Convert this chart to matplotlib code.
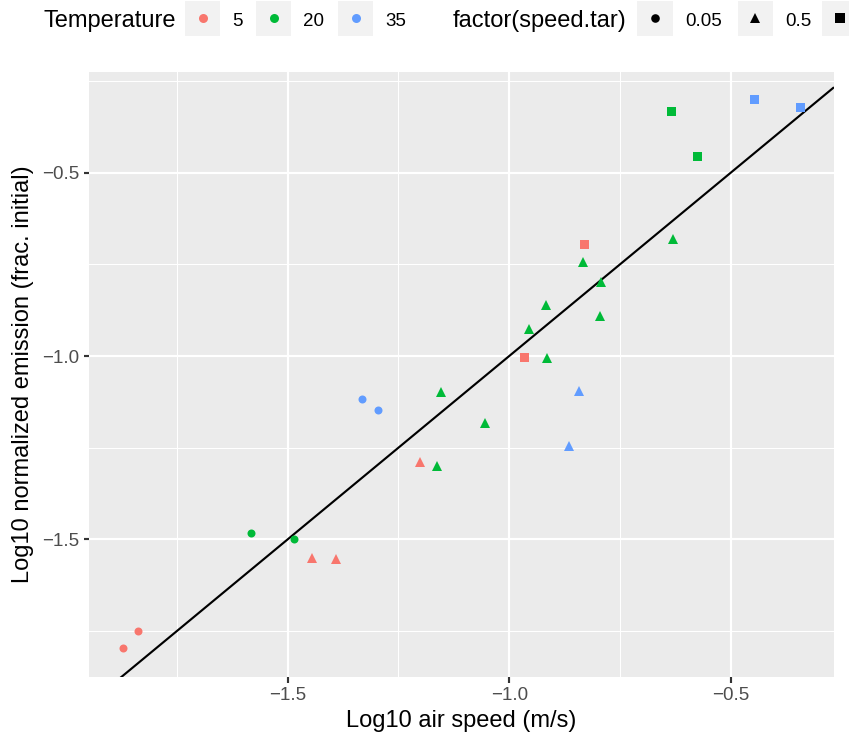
import matplotlib
matplotlib.use("Agg")
import matplotlib.pyplot as plt
from matplotlib.patches import Rectangle

plt.rcParams['font.family'] = ['Liberation Sans', 'DejaVu Sans']

# ---- data ----
log_speed = [-1.8725, -1.8386, -1.583, -1.4865, -1.3316, -1.2962,
             -1.4445, -1.391, -1.2007,
             -1.1533, -1.163, -1.0553, -0.8327, -0.7928, -0.9163, -0.956, -0.7944, -0.914, -0.6302,
             -0.8431, -0.8643,
             -0.8305, -0.9659,
             -0.6341, -0.5754,
             -0.4467, -0.3429]
log_emis = [-1.797, -1.749, -1.483, -1.499, -1.118, -1.146,
            -1.552, -1.554, -1.290,
            -1.099, -1.301, -1.182, -0.744, -0.797, -0.861, -0.927, -0.890, -1.005, -0.682,
            -1.095, -1.245,
            -0.695, -1.003,
            -0.333, -0.455,
            -0.300, -0.322]
temperature = [5, 5, 20, 20, 35, 35,
               5, 5, 5,
               20, 20, 20, 20, 20, 20, 20, 20, 20, 20,
               35, 35,
               5, 5,
               20, 20,
               35, 35]
speed_tar = [0.05] * 6 + [0.5] * 15 + [5] * 6

temp_levels = [5, 20, 35]
temp_labels = ["5", "20", "35"]
speed_levels = [0.05, 0.5, 5]
speed_labels = ["0.05", "0.5", "5"]
abline_intercept = 0.0
abline_slope = 1.0

x_ticks = [-1.5, -1.0, -0.5]
x_minor = [-1.75, -1.25, -0.75]
y_ticks = [-1.5, -1.0, -0.5]
y_minor = [-1.75, -1.25, -0.75, -0.25]

# ---- styles ----
colors = {5: "#F8766D", 20: "#00BA38", 35: "#619CFF"}
markers = {0.05: ("o", 4.0), 0.5: ("^", 5.0), 5: ("s", 4.5)}
FS_TICK = 9.4
FS_TITLE = 11.8

W, H, DPI = 849, 738, 144
fig = plt.figure(figsize=(W / DPI, H / DPI), dpi=DPI)
L, R, T, B = 89, 834, 72, 677
ax = fig.add_axes([L / W, 1 - B / H, (R - L) / W, (B - T) / H])
ax.set_facecolor("#EBEBEB")
for s in ax.spines.values():
    s.set_visible(False)

xlim = (-1.9485, -0.267)
ylim = (-1.8755, -0.2254)
ax.set_xlim(*xlim)
ax.set_ylim(*ylim)

ax.set_xticks(x_ticks)
ax.set_xticks(x_minor, minor=True)
ax.set_yticks(y_ticks)
ax.set_yticks(y_minor, minor=True)
ax.set_xticklabels([f"{v:.1f}".replace("-", "\u2212") for v in x_ticks])
ax.set_yticklabels([f"{v:.1f}".replace("-", "\u2212") for v in y_ticks])
ax.grid(which="major", color="white", linewidth=1.07)
ax.grid(which="minor", color="white", linewidth=0.53)
ax.set_axisbelow(True)
ax.tick_params(which="major", length=2.75, width=1.07, color="#333333",
               labelsize=FS_TICK, labelcolor="#4D4D4D", pad=2.2)
ax.tick_params(which="minor", length=0)

# abline
xs = list(xlim)
ax.plot(xs, [abline_intercept + abline_slope * v for v in xs], color="black",
        linewidth=1.07, zorder=2, solid_capstyle="butt")

for t in temp_levels:
    for sp in speed_levels:
        px = [x for x, tt, ss in zip(log_speed, temperature, speed_tar) if tt == t and ss == sp]
        py = [y for y, tt, ss in zip(log_emis, temperature, speed_tar) if tt == t and ss == sp]
        if px:
            m, ms = markers[sp]
            ax.plot(px, py, linestyle="none", marker=m, markersize=ms,
                    color=colors[t], markeredgewidth=0, zorder=3)

ax.set_xlabel("Log10 air speed (m/s)", fontsize=FS_TITLE, labelpad=3)
ax.set_ylabel("Log10 normalized emission (frac. initial)", fontsize=FS_TITLE, labelpad=4)

# ---- legend (top, drawn in pixel coordinates) ----
lax = fig.add_axes([0, 0, 1, 1], zorder=5)
lax.set_xlim(0, W)
lax.set_ylim(H, 0)
lax.axis("off")
cy = 18.3
base = 26.3
box = 35.5
lax.text(43.5, base + 0.3, "Temperature", fontsize=FS_TITLE, ha="left", va="baseline")
temp_box_x = [185, 256, 338]
for bx, t, lab in zip(temp_box_x, temp_levels, temp_labels):
    lax.add_patch(Rectangle((bx, cy - box / 2), box, box, facecolor="#F2F2F2", edgecolor="none"))
    lax.plot([bx + box / 2], [cy], marker="o", markersize=4.5, color=colors[t],
             markeredgewidth=0, linestyle="none")
    lax.text(bx + box + 12, base, lab, fontsize=FS_TICK, ha="left", va="baseline")

lax.text(453, base + 0.3, "factor(speed.tar)", fontsize=FS_TITLE, ha="left", va="baseline")
speed_box_x = [637.3, 737.7, 822.3]
for bx, sp, lab in zip(speed_box_x, speed_levels, speed_labels):
    lax.add_patch(Rectangle((bx, cy - box / 2), box, box, facecolor="#F2F2F2", edgecolor="none"))
    m, ms = markers[sp]
    lax.plot([bx + box / 2], [cy], marker=m, markersize=ms + 0.3, color="black",
             markeredgewidth=0, linestyle="none")
    # the reference legend runs off the right edge; labels past the edge are not shown
    if bx + box + 12 < W:
        lax.text(bx + box + 12, base, lab, fontsize=FS_TICK, ha="left", va="baseline")

fig.savefig("out.png", dpi=DPI)
